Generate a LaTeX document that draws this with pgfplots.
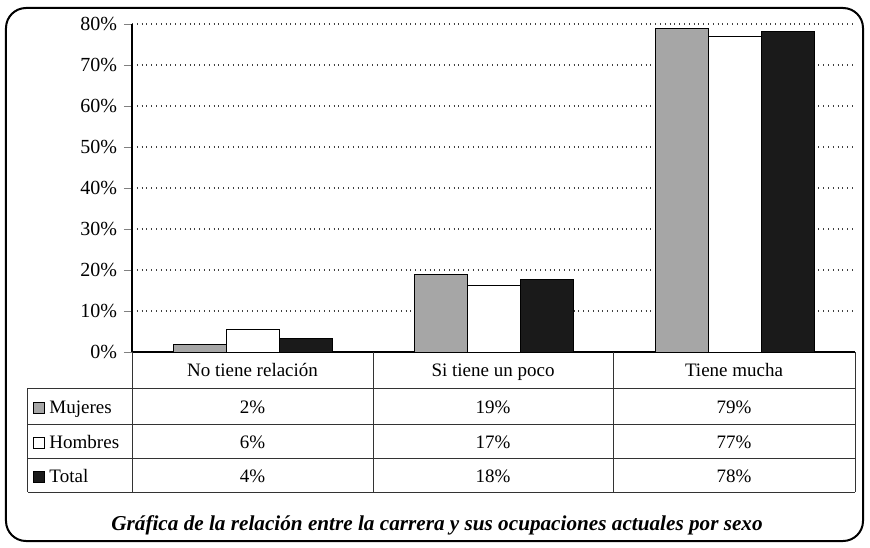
\documentclass[border=0pt]{standalone}
\usepackage{fontspec}
\setmainfont{Liberation Serif}
\usepackage{pgfplots}
\pgfplotsset{compat=1.18}
\definecolor{barGray}{HTML}{A6A6A6}
\definecolor{barBlack}{HTML}{1A1A1A}

\begin{document}
\begin{tikzpicture}
% pixel frame: x=0.5pt, y down, origin of axis at pixel (132,352)
\begin{axis}[
  at={(0,0)}, anchor=south west,
  scale only axis, width=361.5pt, height=164pt,
  xmin=0, xmax=3, ymin=0, ymax=80,
  ybar=0pt, bar width=26.5pt,
  axis x line=bottom, axis y line=left,
  axis line style={-, black, line width=0.6pt},
  xtick=\empty,
  ytick={0,10,...,80},
  yticklabel={\pgfmathprintnumber{\tick}\%},
  /pgf/number format/assume math mode=true,
  tick label style={font=\fontsize{10}{12}\selectfont},
  tick align=outside, major tick length=4pt,
  ymajorgrids, major grid style={black!75, dotted, line width=0.6pt},
  clip=false,
]
\addplot[draw=black, line width=0.5pt, fill=barGray] coordinates {(0.5,1.9) (1.5,19.0) (2.5,79.0)};
\addplot[draw=black, line width=0.5pt, fill=white] coordinates {(0.5,5.4) (1.5,16.3) (2.5,77.0)};
\addplot[draw=black, line width=0.5pt, fill=barBlack] coordinates {(0.5,3.4) (1.5,17.6) (2.5,78.2)};
\end{axis}

\begin{scope}[x=0.5pt, y=-0.5pt, shift={(-66pt,176pt)}, line width=0.5pt]
  \path (0,0) rectangle (870,547);
  % outer rounded frame
  \draw[line width=1pt, rounded corners=10pt] (6,8) rectangle (863,541);
  % table lines
  \draw[black!80] (132,352) -- (132,492);
  \draw[black!80] (373,352) -- (373,492);
  \draw[black!80] (613,352) -- (613,492);
  \draw[black!80] (855,352) -- (855,492);
  \draw[black!80] (28,388) -- (855,388);
  \draw[black!80] (28,424) -- (855,424);
  \draw[black!80] (28,458) -- (855,458);
  \draw[black!80] (28,492) -- (855,492);
  \draw[black!80] (28,388) -- (28,492);
  \begin{scope}[every node/.style={font=\fontsize{9.5}{11}\selectfont, inner sep=0pt, anchor=base}]
    % header row
    \node at (252.5,376) {No tiene relación};
    \node at (493,376) {Si tiene un poco};
    \node at (734,376) {Tiene mucha};
    % row labels with swatches
    \draw[fill=barGray] (34,402) rectangle (45,413);
    \node[anchor=base west] at (49,413) {Mujeres};
    \draw[fill=white] (34,437) rectangle (45,448);
    \node[anchor=base west] at (49,448) {Hombres};
    \draw[fill=barBlack] (34,471) rectangle (45,482);
    \node[anchor=base west] at (49,482) {Total};
    % values
    \node at (252.5,413) {2\%};  \node at (493,413) {19\%}; \node at (734,413) {79\%};
    \node at (252.5,448) {6\%};  \node at (493,448) {17\%}; \node at (734,448) {77\%};
    \node at (252.5,482) {4\%};  \node at (493,482) {18\%}; \node at (734,482) {78\%};
  \end{scope}
  % title
  \node[font=\fontsize{10.6}{12}\selectfont\bfseries\itshape, inner sep=0pt, anchor=base] at (437,530)
    {Gráfica de la relación entre la carrera y sus ocupaciones actuales por sexo};
\end{scope}
\end{tikzpicture}
\end{document}
